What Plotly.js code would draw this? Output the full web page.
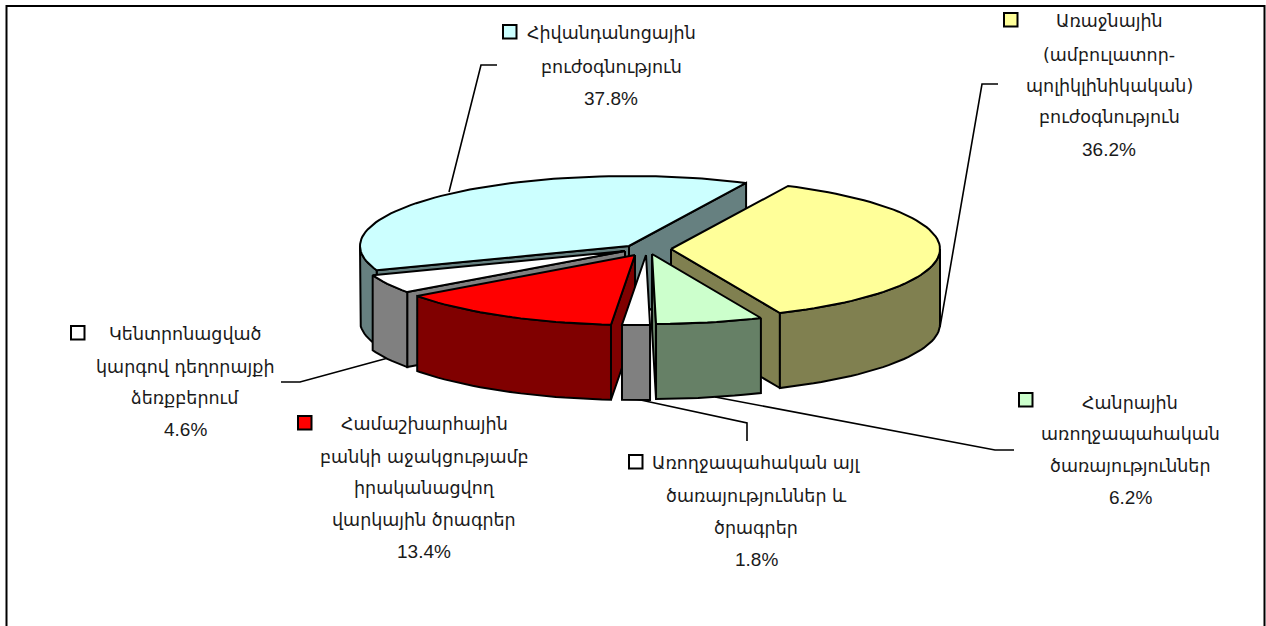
<!DOCTYPE html>
<html><head><meta charset="utf-8">
<script src="https://cdn.plot.ly/plotly-3.0.1.min.js"></script>
<style>html,body{margin:0;padding:0;background:#fff}#c{width:1266px;height:626px}</style>
</head><body><div id="c"></div>
<script>
// DATA
const categories = ["Առաջնային (ամբուլատոր-պոլիկլինիկական) բուժօգնություն","Հանրային առողջապահական ծառայություններ","Առողջապահական այլ ծառայություններ և ծրագրեր","Համաշխարհային բանկի աջակցությամբ իրականացվող վարկային ծրագրեր","Կենտրոնացված կարգով դեղորայքի ձեռքբերում","Հիվանդանոցային բուժօգնություն"];
const values = [36.2, 6.2, 1.8, 13.4, 4.6, 37.8];
const labelLines = [
  ["Առաջնային","(ամբուլատոր-","պոլիկլինիկական)","բուժօգնություն"],
  ["Հանրային","առողջապահական","ծառայություններ"],
  ["Առողջապահական այլ","ծառայություններ և","ծրագրեր"],
  ["Համաշխարհային","բանկի աջակցությամբ","իրականացվող","վարկային ծրագրեր"],
  ["Կենտրոնացված","կարգով դեղորայքի","ձեռքբերում"],
  ["Հիվանդանոցային","բուժօգնություն"]
];
const topColors = ["#FFFF99","#CCFFCC","#FFFFFF","#FF0000","#FFFFFF","#CCFFFF"];
const sideColors = ["#808050","#668066","#808080","#800000","#808080","#668080"];
// LAYOUT (pixel space of the hidden axes)
const centerX = [671,652,646,635,625,629];
const centerY = [249,254,255,255,251,246];
const angleNudge = [0,0.7,0.2,0.9,0,0]; // small perspective correction at each slice's end
const labelX = [1109,1130,756,424,185,611];
const labelY = [[21,55,86,117,149],[403,434,466,497],[463,496,528,559],[424,457,488,520,551],[334,367,398,429],[33,67,98]];
const keyX = [1004,1019,629,298,71,503];
const keyY = [13,393,455,416,326,25];
const leaderX = [[998,982,940],[1014,995,715],[747,747,636],[],[281,300,388],[497,481,449]];
const leaderY = [[84,84,327],[450,450,397],[441,423,399],[],[382,382,358],[65,65,192]];
const rx = 269, ry = 70, depth = 75, startAngle = 25.8;
const drawOrder = [5,0,4,3,2,1];

const rad = d => d*Math.PI/180;
const total = values.reduce((a,b)=>a+b,0);
let a = startAngle, prev = startAngle;
const spans = values.map((v,i)=>{a+=v/total*360; const e=a+angleNudge[i]; const s=prev; prev=e; return [s,e];});
const px = (i,t)=>centerX[i]+rx*Math.sin(rad(t));
const py = (i,t)=>centerY[i]-ry*Math.cos(rad(t));
const poly = (color,xs,ys)=>({type:'scatter',mode:'lines',x:xs.concat(xs[0]),y:ys.concat(ys[0]),fill:'toself',fillcolor:color,
  line:{color:'#000',width:2},hoverinfo:'skip',showlegend:false});
const traces = [];
leaderX.forEach((lx,i)=>{ if(lx.length) traces.push({type:'scatter',mode:'lines',x:lx,y:leaderY[i],line:{color:'#000',width:1.6},hoverinfo:'skip',showlegend:false}); });

function cutFace(i,t){
  const xs=[centerX[i],px(i,t),px(i,t),centerX[i]], ys=[centerY[i],py(i,t),py(i,t)+depth,centerY[i]+depth];
  return poly(sideColors[i],xs,ys);
}
drawOrder.forEach(i=>{
  const [s,e]=spans[i];
  // radial cut faces that turn towards the viewer
  if(Math.cos(rad(s-90))<0) traces.push(cutFace(i,s));
  if(Math.cos(rad(e+90))<0) traces.push(cutFace(i,e));
  // outer rim, front half only
  for(const k of [0,360]){
    const lo=Math.max(s,90+k), hi=Math.min(e,270+k);
    if(hi>lo){
      const xs=[],ys=[];
      for(let t=lo;t<hi;t+=2){xs.push(px(i,t));ys.push(py(i,t));}
      xs.push(px(i,hi));ys.push(py(i,hi));
      const bx=xs.slice().reverse(), by=ys.slice().reverse().map(y=>y+depth);
      traces.push(poly(sideColors[i],xs.concat(bx),ys.concat(by)));
    }
  }
  // top face
  const xs=[centerX[i]],ys=[centerY[i]];
  for(let t=s;t<e;t+=2){xs.push(px(i,t));ys.push(py(i,t));}
  xs.push(px(i,e));ys.push(py(i,e));
  traces.push(poly(topColors[i],xs,ys));
});

const annotations=[], shapes=[];
const font={family:'"DejaVu Sans","Noto Sans",sans-serif',size:17.5,color:'#1a1a1a'};
const pctFont={family:'"Liberation Sans",Arial,sans-serif',size:19,color:'#1a1a1a'};
labelLines.forEach((lines,i)=>{
  lines.concat(values[i].toFixed(1)+'%').forEach((t,j)=>{
    annotations.push({x:labelX[i],y:labelY[i][j],xref:'x',yref:'y',text:t,showarrow:false,xanchor:'center',yanchor:'middle',
      font:j===lines.length?pctFont:font});
  });
  shapes.push({type:'rect',xref:'x',yref:'y',x0:keyX[i],x1:keyX[i]+13.5,y0:keyY[i],y1:keyY[i]+13.5,fillcolor:topColors[i],line:{color:'#000',width:2}});
});
shapes.push({type:'rect',xref:'x',yref:'y',x0:6.5,x1:1264.5,y0:6,y1:660,line:{color:'#000',width:2},fillcolor:'rgba(0,0,0,0)',layer:'below'});

Plotly.newPlot('c',traces,{
  width:1266,height:626,margin:{l:0,r:0,t:0,b:0},paper_bgcolor:'#fff',plot_bgcolor:'#fff',showlegend:false,
  xaxis:{range:[0,1266],visible:false,fixedrange:true},
  yaxis:{range:[626,0],visible:false,fixedrange:true},
  annotations,shapes
},{displayModeBar:false,staticPlot:true});
</script></body></html>
